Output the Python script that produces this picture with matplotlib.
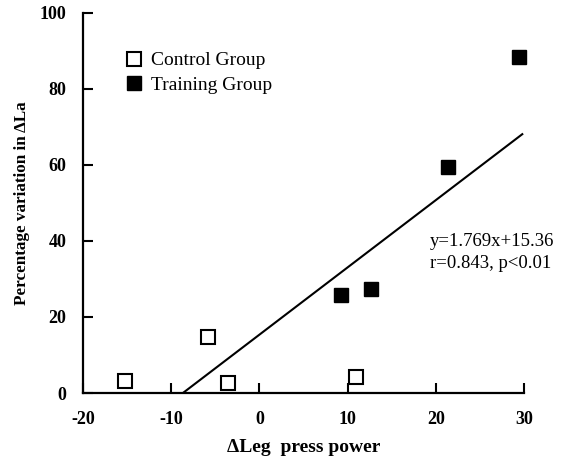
import numpy as np
import matplotlib.pyplot as plt

plt.rcParams['font.family'] = ['Liberation Serif', 'DejaVu Serif']
plt.rcParams['axes.unicode_minus'] = False

# control group
ctrl_x = [-15.3, -5.8, -3.6, 11.0]
ctrl_y = [3.2, 14.7, 2.6, 4.3]
# training group
train_x = [9.3, 12.7, 21.4, 29.4]
train_y = [25.8, 27.4, 59.5, 88.4]

slope = 1.769
intercept = 15.36
fit_x = [-intercept / slope, 29.8]

fig = plt.figure(figsize=(5.69, 4.57), dpi=100)
ax = fig.add_axes([0.146, 0.140, 0.775, 0.832])

ax.plot(ctrl_x, ctrl_y, 's', ms=9.5, mfc='white', mec='black', mew=1.5,
        label='Control Group', clip_on=False)
ax.plot(train_x, train_y, 's', ms=9.5, mfc='black', mec='black',
        label='Training Group', clip_on=False)
fx = np.array(fit_x)
ax.plot(fx, slope * fx + intercept, '-', color='black', lw=1.5)

ax.text(19.3, 37.0, 'y=1.769x+15.36\nr=0.843, p<0.01', fontsize=13.5,
        ha='left', va='center', linespacing=1.4)

ax.set_xlim(-20, 30)
ax.set_ylim(0, 100)
ax.set_xticks([-20, -10, 0, 10, 20, 30])
ax.set_yticks([0, 20, 40, 60, 80, 100])
for s in ['top', 'right']:
    ax.spines[s].set_visible(False)
for s in ['left', 'bottom']:
    ax.spines[s].set_linewidth(1.6)
ax.tick_params(direction='in', length=7, width=1.5, labelsize=13)
ax.tick_params(axis='x', pad=13)
ax.tick_params(axis='y', pad=12)
for lab in ax.get_xticklabels() + ax.get_yticklabels():
    lab.set_fontweight('bold')

ax.set_xlabel('\u0394Leg  press power', fontsize=14, fontweight='bold', labelpad=8)
ax.set_ylabel('Percentage variation in \u0394La', fontsize=12.3, fontweight='bold', labelpad=7)

ax.legend(loc='upper left', bbox_to_anchor=(0.071, 0.918), frameon=False,
          fontsize=14, handletextpad=0.3, labelspacing=0.35, handlelength=1.2,
          borderaxespad=0)

fig.savefig('out.png', dpi=100)
